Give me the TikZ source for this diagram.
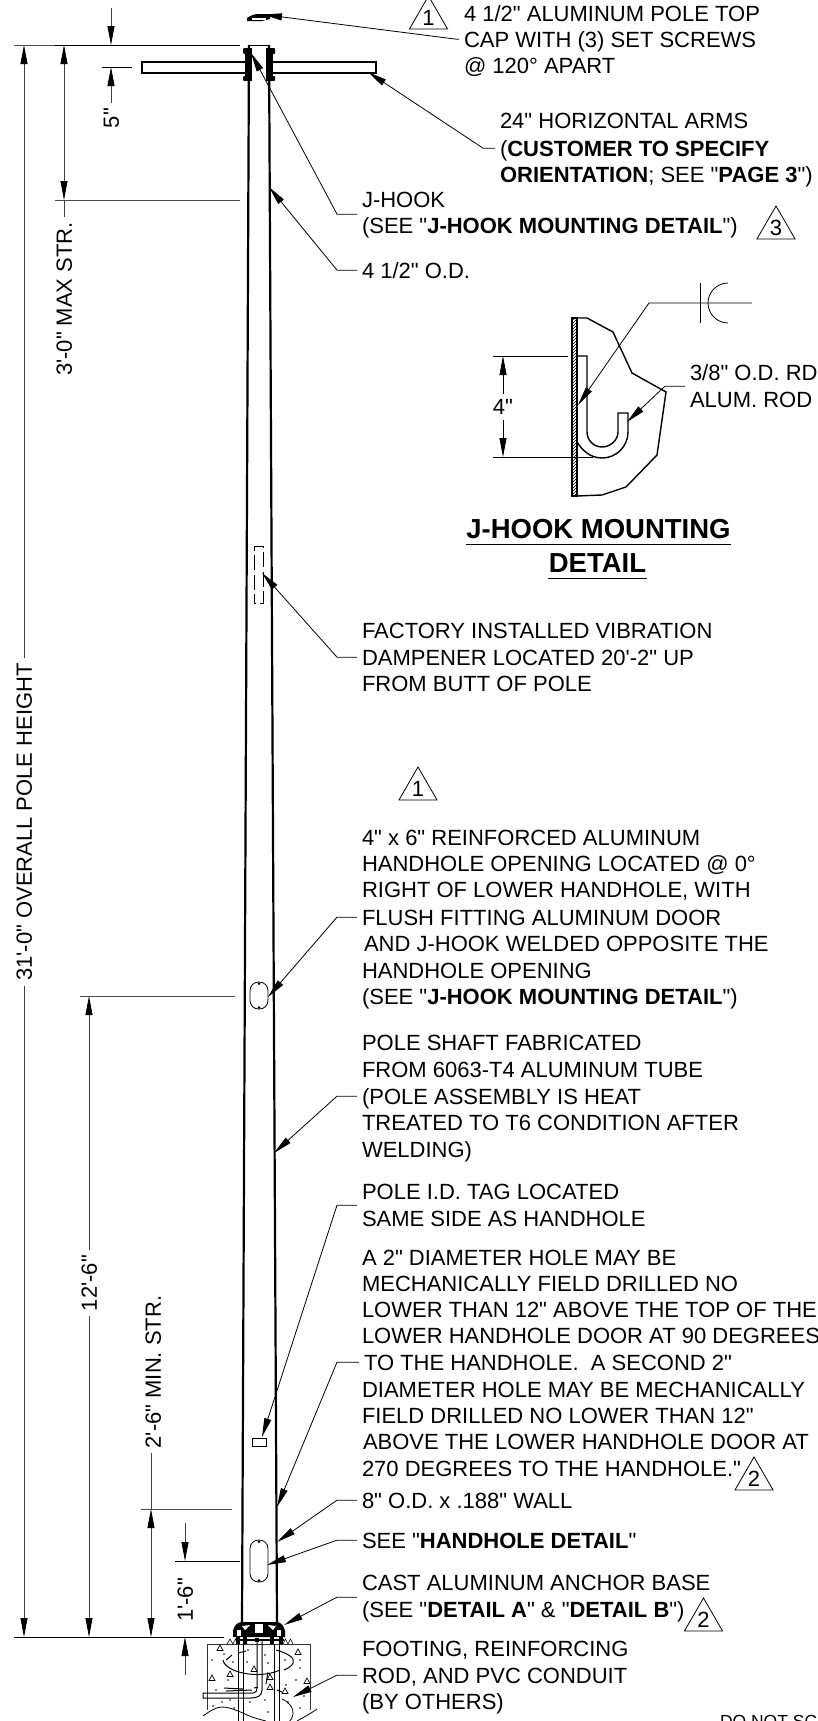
\documentclass[tikz,border=0pt]{standalone}
\usepackage{fontspec}
\setmainfont{Liberation Sans}[Ligatures=TeXOff]
\usetikzlibrary{arrows.meta,shapes.geometric,calc}
\newcommand\bb[1]{\textbf{#1}}
\newcommand\tl[4]{\node[txt] (#1) at (#2-5,#3) {#4};}
\tikzset{
 txt/.style={anchor=base west,inner xsep=5pt,inner ysep=0pt,outer sep=0pt,text height=15.7pt,text depth=0pt,font=\fontsize{22}{26}\selectfont},
 dimtxt/.style={rotate=90,anchor=center,inner xsep=5pt,inner ysep=0pt,outer sep=0pt,text height=15.7pt,text depth=0pt,font=\fontsize{22}{26}\selectfont},
 plaintxt/.style={anchor=center,inner xsep=0pt,inner ysep=5pt,outer sep=0pt,text height=15.7pt,text depth=0pt,font=\fontsize{22}{26}\selectfont},
 title/.style={anchor=base,inner sep=0pt,outer sep=0pt,font=\fontsize{27.5}{32}\selectfont\bfseries},
 tri/.style={regular polygon,regular polygon sides=3,draw,line width=0.8pt,inner sep=0pt,minimum size=44pt,font=\fontsize{22}{26}\selectfont},
 headtip/.tip={Triangle[length=19pt,width=7pt]},
 leader/.style={line width=0.8pt,-{headtip}},
 dimln/.style={line width=0.9pt,black!75},
 dimarr/.style={dimln,arrows={-{headtip[black]}}},
 ext/.style={line width=0.9pt,black!70},
 pole/.style={line width=2.2pt},
 thinl/.style={line width=0.8pt},
}
\begin{document}
\begin{tikzpicture}[x=1pt,y=-1pt]
\useasboundingbox (0,0) rectangle (817,1721);
\clip (0,0) rectangle (817,1721);
% named coordinates
\coordinate (ex) at (337,0);
\coordinate (exArm) at (483,0);
\coordinate (exCap) at (456,0);
% ---------- pole ----------
\draw[pole] (249,45) -- (242,1623);
\draw[pole] (269,45) -- (277,1623);
\draw[thinl] (249,45) -- (269,45);
% arms
\draw[line width=1.6pt] (245,62) -- (142,62) -- (142,73) -- (245,73);
\draw[line width=1.6pt] (273,62) -- (376,62) -- (376,73) -- (273,73);
% brackets
\fill (245,48) rectangle (252,81);
\fill (266,48) rectangle (273,81);
\fill[rounded corners=1pt] (243,48) rectangle (246,54);
\fill[rounded corners=1pt] (243,76) rectangle (246,81);
\fill[rounded corners=1pt] (272,48) rectangle (275,54);
\fill[rounded corners=1pt] (272,76) rectangle (275,81);
% cap
\fill (247,21) -- (247,18) .. controls (250,16) and (254,14) .. (258,14) -- (270,14) -- (270,19) -- (262,21) -- cycle;
\fill[white] (252,18) rectangle (266,19.5);
\coordinate (tipCap) at (263,14.5);
% dampener
\draw[line width=1pt,dash pattern=on 15pt off 4.5pt,dash phase=6pt] (254,603) -- (254,546) -- (263,546) -- (263,603) -- cycle;
% handholes
\draw[line width=0.8pt,rounded corners=8.5pt] (250,982) rectangle (268,1009);
\fill (259,983.5) circle (1.5pt) (259,1007.5) circle (1.5pt);
\draw[line width=0.8pt,rounded corners=8.5pt] (250,1540) rectangle (268,1582);
\fill (259,1541.5) circle (1.5pt) (259,1580.5) circle (1.5pt);
% tag
\draw[line width=0.8pt] (252,1438) rectangle (266,1446);
% ---------- anchor base ----------
\fill (233,1637) -- (233,1631) .. controls (234,1626) and (237,1622) .. (242,1622) -- (277,1622) .. controls (281,1622) and (284,1626) .. (285,1631) -- (285,1637) -- cycle;
\fill[white] (255,1624) rectangle (263,1633);
\fill[white] (237,1630) rectangle (241,1636);
\fill[white] (277,1630) rectangle (281,1636);
\fill[white] (242,1626) -- (250,1625) -- (245,1630) -- cycle;
\fill[white] (276,1626) -- (268,1625) -- (273,1630) -- cycle;
\draw[line width=1.2pt] (236,1640) -- (284,1640);
\foreach \x in {236,243,270,279} {\fill (\x,1637) rectangle (\x+4,1644);}
\fill (255,1638) rectangle (259,1642);
\foreach \x/\w in {227/6,233/5,283/5,288/5} {\draw[line width=0.6pt] (\x,1644) -- (\x+\w/2,1639) -- (\x+\w,1644);}
% ---------- footing ----------
\draw[thinl,black!80] (207,1710) -- (207,1644) -- (310,1644) -- (310,1710);
\draw[thinl] (203,1716) .. controls (210,1711) and (216,1707) .. (222,1707) .. controls (232,1707) and (244,1714) .. (252,1717) .. controls (258,1719) and (262,1720) .. (266,1721);
\draw[thinl] (297,1721) .. controls (304,1717) and (310,1714) .. (317,1709);
\draw[thinl] (282,1699) .. controls (289,1702) and (294,1708) .. (293,1714) .. controls (293,1717) and (291,1720) .. (289,1722);
% rods
\draw[line width=1pt] (238,1644) -- (238,1721) (243,1644) -- (243,1721);
\draw[line width=1pt] (274,1644) -- (274,1721) (279,1644) -- (279,1721);
% conduit
\draw[line width=1pt] (257,1641) -- (257,1688) .. controls (257,1691) and (256,1693) .. (253,1693) -- (203,1693) -- (203,1698) -- (251,1698) .. controls (257,1698) and (262,1696) .. (262,1690) -- (262,1641);
% spiral rebar
\draw[line width=1pt] (223,1660) .. controls (225,1672) and (258,1680) .. (280,1670);
\draw[line width=1pt] (284,1670) .. controls (294,1666) and (296,1660) .. (290,1656) .. controls (286,1653) and (280,1651) .. (276,1650);
\draw[line width=1pt] (226,1660) -- (232,1655) (238,1653) -- (246,1651);
\draw[line width=1pt] (224,1688) -- (243,1689) (226,1691) -- (252,1690) (254,1688) -- (258,1687) (266,1684) -- (268,1672) (277,1690) -- (282,1692);
\foreach \x/\y in {220/1648,298/1652,230/1674,212/1678,307/1681,254/1669,270/1677,270/1687,285/1691} {
 \draw[line width=0.7pt] (\x-3,\y+2.5) -- (\x,\y-3) -- (\x+3,\y+2.5) -- cycle;}
\foreach \x/\y in {224/1654,233/1662,212/1660,216/1690,228/1680,222/1702,234/1708,248/1650,265/1655,268/1663,285/1660,300/1668,296/1680,304/1696,288/1702,265/1700,268/1712,250/1702,230/1700,300/1660,286/1685,247/1662,213/1706,300/1708} {
 \fill (\x,\y) circle (0.8pt);}
% ---------- dimension extension lines ----------
\draw[ext] (14,45) -- (55,45);
\draw[line width=1pt] (55,45) -- (240,45);
\draw[ext] (55,200) -- (240,200);
\draw[line width=0.9pt] (102,67) -- (132,67);
\draw[ext] (80,996) -- (235,996);
\draw[ext] (141,1509) -- (232,1509);
\draw[line width=0.9pt] (175,1561) -- (240,1561);
\draw[line width=1pt] (14,1637) -- (224,1637);
% ---------- dimension texts and lines ----------
\node[dimtxt] (dOver) at (24,822) {31'-0" OVERALL POLE HEIGHT};
\coordinate (oT) at (24,45); \coordinate (oB) at (24,1637);
\draw[dimarr] (dOver.east) -- (oT);
\draw[dimarr] (dOver.west) -- (oB);
\node[dimtxt] (dMax) at (64,299) {3'-0" MAX STR.};
\coordinate (mT) at (64,45); \coordinate (mB) at (64,200);
\draw[dimln,{headtip[black]}-{headtip[black]}] (mT) -- (mB);
\draw[dimln] (mB) -- (dMax.east);
\coordinate (fA) at (111,8); \coordinate (fB) at (111,45);
\draw[dimarr] (fA) -- (fB);
\node[dimtxt] (dFive) at (111,118) {5"};
\coordinate (fC) at (111,67);
\draw[dimarr] (dFive.east) -- (fC);
\node[dimtxt] (dTwelve) at (89,1283) {12'-6"};
\coordinate (tT) at (89,996); \coordinate (tB) at (89,1637);
\draw[dimarr] (dTwelve.east) -- (tT);
\draw[dimarr] (dTwelve.west) -- (tB);
\node[dimtxt] (dMin) at (153,1372) {2'-6" MIN. STR.};
\coordinate (nT) at (151,1509); \coordinate (nB) at (151,1637);
\draw[dimln,{headtip[black]}-{headtip[black]}] (nT) -- (nB);
\draw[dimln] (nT) -- (dMin.west -| nT);
\coordinate (hA) at (185,1523); \coordinate (hB) at (185,1561);
\draw[dimarr] (hA) -- (hB);
\node[dimtxt] (dOne) at (185,1600) {1'-6"};
\coordinate (hC) at (185,1675); \coordinate (hD) at (185,1637);
\draw[dimarr] (hC) -- (hD);
% ---------- text ----------
\tl{a1}{464}{21}{4 1/2" ALUMINUM POLE TOP}
\tl{a2}{464}{47}{CAP WITH (3) SET SCREWS}
\tl{a3}{464}{73}{@ 120° APART}
\tl{b1}{500}{128}{24" HORIZONTAL ARMS}
\tl{b2}{500}{156}{(\bb{CUSTOMER TO SPECIFY}}
\tl{b3}{500}{182}{\bb{ORIENTATION}; SEE "\bb{PAGE 3}")}
\tl{c1}{362}{207}{J-HOOK}
\tl{c2}{362}{233}{(SEE "\bb{J-HOOK MOUNTING DETAIL}")}
\tl{d1}{362}{278}{4 1/2" O.D.}
\tl{e1}{362}{638}{FACTORY INSTALLED VIBRATION}
\tl{e2}{362}{665}{DAMPENER LOCATED 20'-2" UP}
\tl{e3}{362}{691}{FROM BUTT OF POLE}
\tl{f1}{362}{845}{4" x 6" REINFORCED ALUMINUM}
\tl{f2}{362}{871}{HANDHOLE OPENING LOCATED @ 0°}
\tl{f3}{362}{897}{RIGHT OF LOWER HANDHOLE, WITH}
\tl{f4}{362}{925}{FLUSH FITTING ALUMINUM DOOR}
\tl{f5}{364}{951}{AND J-HOOK WELDED OPPOSITE THE}
\tl{f6}{362}{978}{HANDHOLE OPENING}
\tl{f7}{362}{1004}{(SEE "\bb{J-HOOK MOUNTING DETAIL}")}
\tl{g1}{362}{1050}{POLE SHAFT FABRICATED}
\tl{g2}{362}{1077}{FROM 6063-T4 ALUMINUM TUBE}
\tl{g3}{362}{1104}{(POLE ASSEMBLY IS HEAT}
\tl{g4}{362}{1130}{TREATED TO T6 CONDITION AFTER}
\tl{g5}{362}{1157}{WELDING)}
\tl{h1}{362}{1199}{POLE I.D. TAG LOCATED}
\tl{h2}{362}{1226}{SAME SIDE AS HANDHOLE}
\tl{i1}{362}{1265}{A 2" DIAMETER HOLE MAY BE}
\tl{i2}{362}{1291}{MECHANICALLY FIELD DRILLED NO}
\tl{i3}{362}{1317}{LOWER THAN 12" ABOVE THE TOP OF THE}
\tl{i4}{362}{1343}{LOWER HANDHOLE DOOR AT 90 DEGREES}
\tl{i5}{364}{1370}{TO THE HANDHOLE.\ \ A SECOND 2"}
\tl{i6}{362}{1397}{DIAMETER HOLE MAY BE MECHANICALLY}
\tl{i7}{362}{1423}{FIELD DRILLED NO LOWER THAN 12"}
\tl{i8}{363}{1449}{ABOVE THE LOWER HANDHOLE DOOR AT}
\tl{i9}{362}{1476}{270 DEGREES TO THE HANDHOLE."}
\tl{j1}{362}{1508}{8" O.D. x .188" WALL}
\tl{k1}{362}{1548}{SEE "\bb{HANDHOLE DETAIL}"}
\tl{l1}{362}{1590}{CAST ALUMINUM ANCHOR BASE}
\tl{l2}{362}{1617}{(SEE "\bb{DETAIL A}" \& "\bb{DETAIL B}")}
\tl{m1}{362}{1656}{FOOTING, REINFORCING}
\tl{m2}{362}{1683}{ROD, AND PVC CONDUIT}
\tl{m3}{362}{1709}{(BY OTHERS)}
\node[txt,font=\fontsize{17.5}{20}\selectfont] (n1) at (715,1727.5) {DO NOT SC};
% triangles
\node[tri] (t1) at (428.5,18) {1};
\node[tri] (t3) at (776,228) {3};
\node[tri] (t1b) at (418,789) {1};
\node[tri] (t2a) at (754,1479) {2};
\node[tri] (t2b) at (703.5,1620) {2};
% ---------- leaders ----------
\coordinate (tArm) at (368,72);
\coordinate (tHook) at (251,53);
\coordinate (tOD) at (269,187);
\coordinate (tDamp) at (262,573);
\coordinate (tHH) at (268,997);
\coordinate (tShaft) at (274,1153);
\coordinate (tTag) at (262,1437);
\coordinate (tTwo) at (277,1507);
\coordinate (tEight) at (277,1542);
\coordinate (tSee) at (267,1565);
\coordinate (tCast) at (284,1625);
\coordinate (tFoot) at (293,1697);
\draw[leader] (a2.west) -- (a2.west -| exCap) -- (tipCap);
\draw[leader] (b2.west) -- (b2.west -| exArm) -- (tArm);
\draw[leader] (c2.west) ++(0,-11) coordinate (cy) -- (cy -| ex) -- (tHook);
\draw[leader] (d1.west) -- (d1.west -| ex) -- (tOD);
\draw[leader] (e2.west) -- (e2.west -| ex) -- (tDamp);
\draw[leader] (f4.west) -- (f4.west -| ex) -- (tHH);
\draw[leader] (g3.west) -- (g3.west -| ex) -- (tShaft);
\draw[leader] (h2.west) ++(0,-13) coordinate (hy) -- (hy -| ex) -- (tTag);
\draw[leader] (i5.west) -- (i5.west -| ex) -- (tTwo);
\draw[leader] (j1.west) -- (j1.west -| ex) -- (tEight);
\draw[leader] (k1.west) -- (k1.west -| ex) -- (tSee);
\draw[leader] (l1.west) ++(0,15) coordinate (ly) -- (ly -| ex) -- (tCast);
\draw[leader] (m2.west) -- (m2.west -| ex) -- (tFoot);
% ---------- J-hook detail ----------
\draw[line width=1.4pt] (572,318) rectangle (577,496);
\begin{scope}
\clip (572,318) rectangle (577,496);
\foreach \y in {318,321,...,500} {\draw[line width=0.5pt] (572,\y) -- (577,\y-5);}
\end{scope}
\draw[line width=1.4pt] (577,318) -- (587,318) -- (613,332) -- (632,373) -- (666,392) -- (657,455) -- (626,487) -- (602,495) -- (577,496);
\draw[line width=1.4pt] (577,356) -- (587,356) -- (587,432) .. controls (587,440.3) and (593.7,447) .. (602,447) .. controls (610.3,447) and (618,440.3) .. (618,432) -- (618,413) -- (628,413) -- (628,432) .. controls (628,446.4) and (616.4,458) .. (602,458) .. controls (590,458) and (582,450) .. (577,442);
\draw[thinl] (493,356) -- (568,356);
\draw[thinl] (493,457) -- (593,457);
\node[plaintxt] (dFour) at (503,407) {4"};
\coordinate (fT) at (503,356); \coordinate (fBt) at (503,457);
\draw[leader] (dFour.north) -- (fT);
\draw[leader] (dFour.south) -- (fBt);
\coordinate (cl1) at (752,303); \coordinate (cl2) at (649,303); \coordinate (cl3) at (578,405);
\draw[leader] (cl1) -- (cl2) -- (cl3);
\coordinate (tk1) at (700,283); \coordinate (tk2) at (700,323);
\draw[thinl] (tk1) -- (tk2);
\draw[thinl] (728,283) .. controls (717,283) and (708,292) .. (708,303) .. controls (708,314) and (717,323) .. (728,323);
\tl{r1}{690}{380}{3/8" O.D. RD}
\tl{r2}{690}{407}{ALUM. ROD}
\coordinate (rA) at (665,386); \coordinate (rT) at (627,422);
\draw[leader] (r1.west) ++(0,14) coordinate (ry) -- (ry -| rA) -- (rT);
\node[title] (ttl1) at (598.5,538) {J-HOOK MOUNTING};
\node[title] (ttl2) at (597.5,572) {DETAIL};
\draw[line width=1.4pt] (466,544.5) -- (731,544.5);
\draw[line width=1.4pt] (548,578.5) -- (647,578.5);
\end{tikzpicture}
\end{document}
